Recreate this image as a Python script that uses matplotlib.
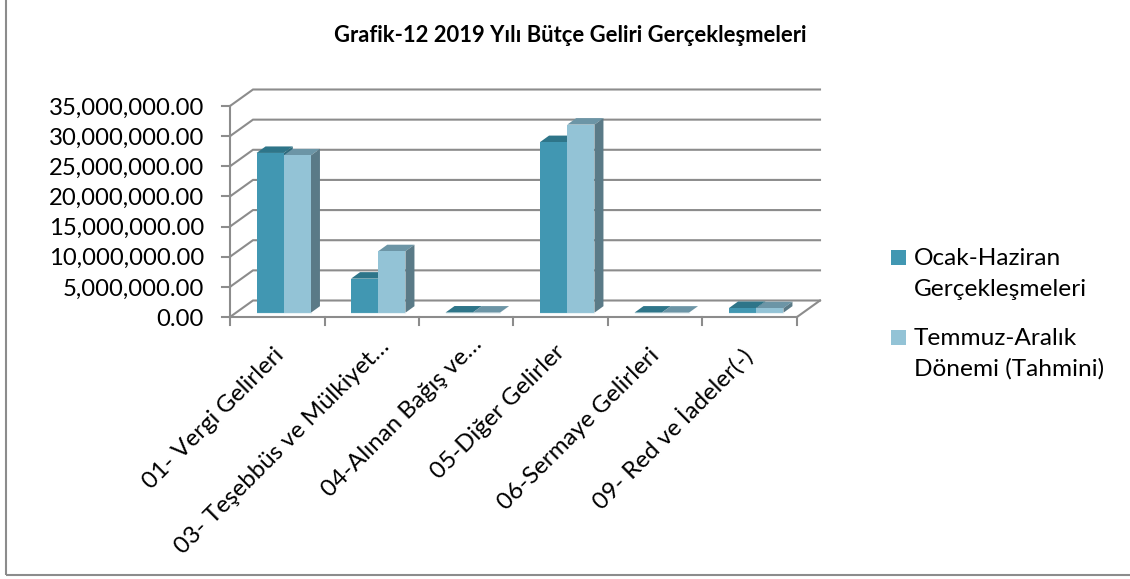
import matplotlib
matplotlib.use("Agg")
import matplotlib.pyplot as plt
from matplotlib.patches import Rectangle

categories = ["01- Vergi Gelirleri", "03- Teşebbüs ve Mülkiyet…", "04-Alınan Bağış ve…",
              "05-Diğer Gelirler", "06-Sermaye Gelirleri", "09- Red ve İadeler(-)"]
series_names = ["Ocak-Haziran\nGerçekleşmeleri", "Temmuz-Aralık\nDönemi (Tahmini)"]
ocak_haziran = [26.5e6, 5.65e6, 0.03e6, 28.3e6, 0.02e6, 0.78e6]
temmuz_aralik = [26.1e6, 10.2e6, 0.02e6, 31.2e6, 0.01e6, 0.75e6]
y_ticks = [0, 5e6, 10e6, 15e6, 20e6, 25e6, 30e6, 35e6]
title = "Grafik-12 2019 Yılı Bütçe Geliri Gerçekleşmeleri"

W, H = 1130, 579
plt.rcParams["font.family"] = ["Lato", "DejaVu Sans"]
fig = plt.figure(figsize=(W / 100, H / 100), dpi=100, facecolor="white")

L, R, T, B = 230, 797, 106, 317
ax = fig.add_axes([L / W, 1 - B / H, (R - L) / W, (B - T) / H])
ax.set_xlim(0, 6)
ax.set_ylim(0, 35e6)
ax.axis("off")

px = 6 / (R - L)
py = 35e6 / (B - T)
GRID = "#8c8c8c"
LW = 1.5


def off(x, y, dx, dy):
    return x + dx * px, y + dy * py


# walls
DX, DY = 23, 16.5
for v in y_ticks:
    x0, y0 = off(0, v, DX, DY)
    x1, y1 = off(6, v, DX, DY)
    ax.plot([0, x0, x1], [v, y0, y1], color=GRID, lw=LW, clip_on=False, zorder=1, solid_joinstyle="miter")
    ax.plot([-8 * px, 0], [v, v], color=GRID, lw=LW, clip_on=False, zorder=1)
    ax.text(-26 * px, v - 2 * py, f"{v:,.2f}", ha="right", va="center", fontsize=17.2, color="black", clip_on=False)
xb, yb = off(6, 0, DX, DY)
ax.plot([6, xb], [0, yb], color=GRID, lw=LW, clip_on=False, zorder=1)
ax.plot([0, 6], [0, 0], color=GRID, lw=LW, clip_on=False, zorder=2)
ax.plot([0, 0], [0, 35e6], color=GRID, lw=LW, clip_on=False, zorder=2)
for i in range(7):
    ax.plot([i, i], [0, -8 * py], color=GRID, lw=LW, clip_on=False, zorder=2)

# bars
BW = 27.2 * px
FX, FY = 6.5, 4.3
SX, SY = 9, 6.5
FRONT = ["#4197b2", "#93c3d6"]
TOP = ["#2e7589", "#6c95a6"]
SIDE = ["#2e6a7c", "#5a7a87"]


def bar3d(left, value, k, z):
    x0, y0 = off(left, 0, FX, FY)
    x1 = x0 + BW
    y1 = y0 + value
    ax.add_patch(Rectangle((x0, y0), BW, value, fc=FRONT[k], ec="none", zorder=z + 2, clip_on=False))
    ax.plot([x0, x1], [y0, y0], color="#eaf3f6", lw=0.8, zorder=z + 2, clip_on=False)
    dx, dy = SX * px, SY * py
    ax.fill([x0, x1, x1 + dx, x0 + dx], [y1, y1, y1 + dy, y1 + dy], fc=TOP[k], ec="none", zorder=z + 1, clip_on=False)
    ax.fill([x1, x1 + dx, x1 + dx, x1], [y0, y0 + dy, y1 + dy, y1], fc=SIDE[k], ec="none", zorder=z + 1, clip_on=False)


for i, (a, b) in enumerate(zip(ocak_haziran, temmuz_aralik)):
    left = i + (94.5 - 2 * BW / px) / 2 * px
    bar3d(left, a, 0, 5)
    bar3d(left + BW, b, 1, 8)

# category labels
label_dx = [-14, -3, -5, -17, -17, -20]
label_dy = [-27, -19, -16, -24, -28, -26]
for i, c in enumerate(categories):
    ax.annotate(c, xy=(i + 0.5, 0), xycoords="data", xytext=(10 + label_dx[i], label_dy[i]), textcoords="offset pixels",
                rotation=45, rotation_mode="anchor", ha="right", va="top", fontsize=17.4, color="black",
                annotation_clip=False)

# title
fig.text(570.5 / W, 1 - 35 / H, title, ha="center", va="center", fontsize=15.8, fontweight="bold", color="black")

# legend
for y_sq, name, col, y_txt in [(257.5, series_names[0], FRONT[0], 274), (337.5, series_names[1], FRONT[1], 354)]:
    fig.add_artist(Rectangle((891 / W, 1 - (y_sq + 7.5) / H), 15 / W, 15 / H, transform=fig.transFigure,
                             fc=col, ec="none"))
    fig.text(914 / W, 1 - y_txt / H, name, ha="left", va="center", fontsize=17.6, color="black", linespacing=1.53)

# frame
fig.add_artist(Rectangle((6 / W, 1 - 575 / H), (W + 20 - 6) / W, (575 + 20) / H, transform=fig.transFigure,
                         fc="none", ec="#8c8c8c", lw=1.5))

fig.savefig("out.png", dpi=100)
